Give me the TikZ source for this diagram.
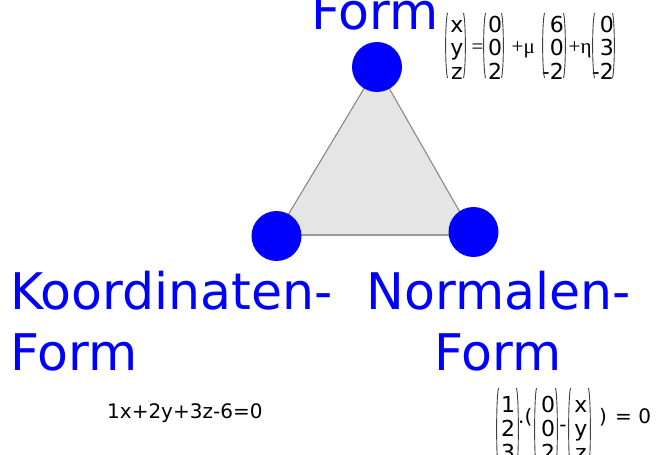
\documentclass[tikz,border=0pt]{standalone}
\usepackage{fontspec}
\setmainfont{DejaVu Sans}
\newfontfamily\symserif{Liberation Serif}
\newcommand\mylp[3]{\draw[parline] (#1+2.5,#2) .. controls (#1,#2+10) and (#1,#3-10) .. (#1+2.5,#3);}
\newcommand\myrp[3]{\draw[parline] (#1-2.5,#2) .. controls (#1,#2+10) and (#1,#3-10) .. (#1-2.5,#3);}
\begin{document}
\begin{tikzpicture}[x=1pt,y=-1pt,
  vert/.style={circle,fill=blue,minimum size=50pt,inner sep=0pt},
  big/.style={text=blue,font=\fontsize{50.5}{60}\selectfont,inner sep=0pt},
  ent/.style={font=\fontsize{22}{24}\selectfont,inner sep=0pt,anchor=base},
  entr/.style={ent,anchor=base east},
  sym/.style={font=\symserif\fontsize{21}{24}\selectfont,inner sep=0pt,anchor=base west},
  txt/.style={font=\fontsize{20}{24}\selectfont,inner sep=0pt},
  parline/.style={draw=black!75,line width=0.9pt}]
\useasboundingbox (0,0) rectangle (657,455);
\clip (0,0) rectangle (657,455);
% triangle
\coordinate (A) at (377,67);
\coordinate (B) at (276,235);
\coordinate (C) at (473,235);
\fill[black!10] (A) -- (B) -- (C) -- cycle;
\draw[gray,line width=1pt] (B) -- (A) -- (C);
\draw[gray!80,line width=1.8pt] (B) -- (C);
\node[vert] (vtop) at (377,67) {};
\node[vert] (vleft) at (276.5,236) {};
\node[vert] (vright) at (473.5,232) {};
% labels
\node[big,anchor=base] (ptext) at (375,30) {Form};
\node[big,anchor=base west] (k1) at (10,309) {Koordinaten-};
\node[big,anchor=base west] (k2) at (10,370) {Form};
\node[big,anchor=base] (n1) at (498.5,309) {Normalen-};
\node[big,anchor=base] (n2) at (498,370) {Form};
% coordinate form
\node[txt,anchor=base west] (keq) at (107,418) {1x+2y+3z-6=0};
% parametric form
\node[ent] (p11) at (457,32) {x};
\node[ent] (p12) at (457,55.5) {y};
\node[ent] (p13) at (457,79) {z};
\mylp{445}{13}{78}\myrp{466}{13}{78}
\node[sym] (peq) at (471.5,53) {=};
\node[ent] (p21) at (495,32) {0};
\node[ent] (p22) at (495,55.5) {0};
\node[ent] (p23) at (495,79) {2};
\mylp{483}{13}{78}\myrp{504}{13}{78}
\node[sym] (pmu) at (511.5,53) {+μ};
\node[entr] (p31) at (564,32) {6};
\node[entr] (p32) at (564,55.5) {0};
\node[entr] (p33) at (564,79) {-2};
\mylp{542}{13}{78}\myrp{566}{13}{78}
\node[sym] (peta) at (568.5,53) {+η};
\node[entr] (p41) at (614,32) {0};
\node[entr] (p42) at (614,55.5) {3};
\node[entr] (p43) at (614,79) {-2};
\mylp{592}{13}{78}\myrp{615}{13}{78}
% normal form
\node[ent] (n11) at (508,412) {1};
\node[ent] (n12) at (508,436) {2};
\node[ent] (n13) at (508,460) {3};
\mylp{496}{388}{470}\myrp{519}{388}{470}
\node[txt,anchor=base west] (ndot) at (518,423) {.(};
\node[ent] (n21) at (548,412) {0};
\node[ent] (n22) at (548,436) {0};
\node[ent] (n23) at (548,460) {2};
\mylp{534}{388}{470}\myrp{558}{388}{470}
\node[txt,anchor=base] (nminus) at (563,431) {-};
\node[ent] (n31) at (581,412) {x};
\node[ent] (n32) at (581,436) {y};
\node[ent] (n33) at (581,460) {z};
\mylp{568}{388}{470}\myrp{591}{388}{470}
\node[txt,anchor=base] (nclose) at (603,423) {)};
\node[txt,anchor=base west] (nzero) at (615,423) {= 0};
\end{tikzpicture}
\end{document}
